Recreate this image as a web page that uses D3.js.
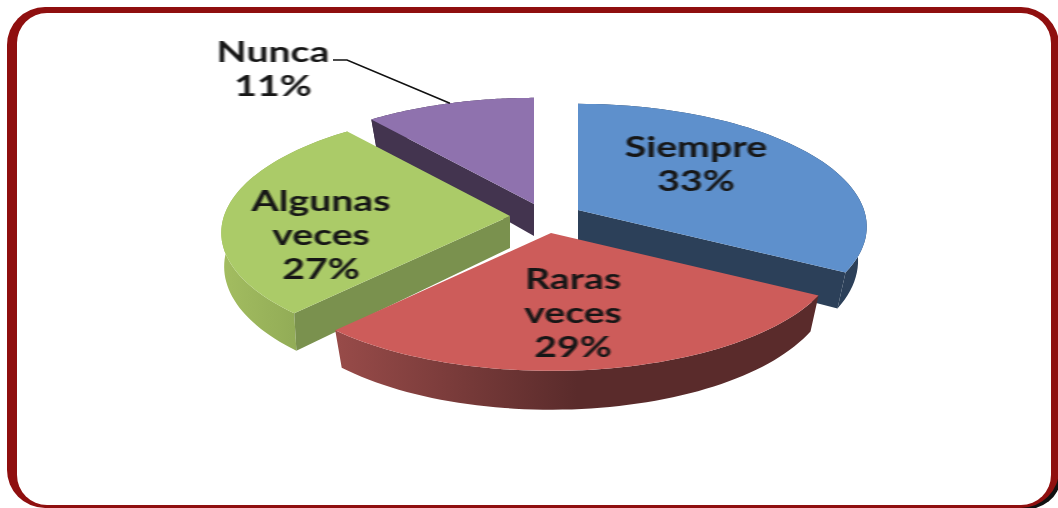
<!DOCTYPE html>
<html>
<head>
<meta charset="utf-8">
<script src="https://cdn.jsdelivr.net/npm/d3@7"></script>
<style>
  html, body { margin: 0; padding: 0; background: #fff; overflow: hidden; }
  svg { display: block; }
</style>
</head>
<body>
<svg id="chart" width="1058" height="508"></svg>
<script>
// Exploded 3D pie, drawn by hand since d3 has no perspective pie

const CATEGORIES = ["Siempre", "Raras veces", "Algunas veces", "Nunca"];
const PERCENTS = [33, 29, 27, 11];
const LABEL_LINES = [["Siempre", "33%"], ["Raras", "veces", "29%"], ["Algunas", "veces", "27%"], ["Nunca", "11%"]];

const TOP_COLORS = ["#5e90cc", "#cd5c5a", "#abcb68", "#8f72ae"];
const CUT_COLORS = ["#2c4059", "#5a2b2b", "#7a914e", "#43344f"];
const RIM_COLORS = [["#2c4059", "#2c4059"], ["#984b49", "#5a2b2b"], ["#a3bd60", "#86a050"], ["#43344f", "#43344f"]];
// Which radial edge of each slice shows its cut face
const CUT_EDGE = ["endAngle", null, "startAngle", "startAngle"];

// ── Layout ────────────────────────────────────────────────────
// Apex of each exploded slice and label anchors, in the same order as CATEGORIES
const APEX = [[578, 210], [551, 233], [510, 216], [534, 204]];
const LABEL_POS = [[696, 157], [573, 289], [321, 211], [273, 62]];
const LINE_H = 34;

const RX = 286, RY = 122;    // ellipse radii of the top face
const PERSP_X = 0.14, PERSP_Y = 0.13;  // front of the pie is nearer than the back
const BOTTOM_K = 0.97;       // bottom ring is slightly smaller
const BOTTOM_KX = [0.97, 0.97, 0.99, 0.97];  // green barely leans inward, the rest more
const TEXT_STRETCH = 1.4;    // labels are stretched wide in the original

const svg = d3.select("#chart");
const defs = svg.append("defs");
defs.append("filter").attr("id", "soft")
  .append("feGaussianBlur").attr("stdDeviation", 0.6);

// ── Frame ─────────────────────────────────────────────────────
// Stroke is uneven in the original (thick left, thin bottom), so outer and inner
// rounded rects are separate. Dark rect only peeks out at the bottom right corner.
svg.append("rect")
  .attr("x", 900).attr("y", 450).attr("width", 160).attr("height", 60)
  .attr("rx", 38).attr("fill", "#111");
svg.append("rect")
  .attr("x", 7).attr("y", 7).attr("width", 1052).attr("height", 501)
  .attr("rx", 38).attr("fill", "#8f0f0f");
svg.append("rect")
  .attr("x", 17).attr("y", 13).attr("width", 1034).attr("height", 492)
  .attr("rx", 30).attr("fill", "#fff");

// ── Projection ────────────────────────────────────────────────
// angle is clockwise from 12 o'clock, r goes 0..1 from the apex to the rim
function topPt(apex, angle, r = 1) {
  const s = Math.sin(angle), c = Math.cos(angle);
  return [
    apex[0] + r * RX * s * (1 - PERSP_X * c),
    apex[1] - r * RY * c * (1 - PERSP_Y * c)
  ];
}

function bottomPt(apex, angle, r = 1, kx = BOTTOM_K) {
  const p = topPt(apex, angle, r);
  const depth = r === 0 ? 32 : 33 - 10 * Math.cos(angle);
  return [
    apex[0] + (p[0] - apex[0]) * kx,
    apex[1] + (p[1] - apex[1]) * BOTTOM_K + depth
  ];
}

const slices = d3.pie().sort(null)(PERCENTS);
const line = d3.line();
const closed = pts => line(pts) + "Z";

function arcAngles(d) {
  return d3.range(0, 61).map(i => d.startAngle + (d.endAngle - d.startAngle) * i / 60);
}

// ── Slices ────────────────────────────────────────────────────
// Painter order: back to front
[3, 0, 2, 1].forEach(i => {
  const d = slices[i], apex = APEX[i], kx = BOTTOM_KX[i];
  const angles = arcAngles(d);
  const g = svg.append("g").attr("class", "slice");

  const gradId = "rim" + i;
  const grad = defs.append("linearGradient").attr("id", gradId);
  grad.append("stop").attr("offset", 0).attr("stop-color", RIM_COLORS[i][0]);
  grad.append("stop").attr("offset", 1).attr("stop-color", RIM_COLORS[i][1]);
  if (i === 1) grad.attr("x1", 0).attr("x2", 0.5);

  const rim = angles.map(a => topPt(apex, a)).concat(angles.slice().reverse().map(a => bottomPt(apex, a, 1, kx)));
  g.append("path").attr("d", closed(rim)).attr("fill", `url(#${gradId})`);

  if (CUT_EDGE[i]) {
    const a = d[CUT_EDGE[i]];
    g.append("path")
      .attr("d", closed([topPt(apex, a, 0), topPt(apex, a), bottomPt(apex, a, 1, kx), bottomPt(apex, a, 0, kx)]))
      .attr("fill", CUT_COLORS[i]);
  }

  g.append("path")
    .attr("d", closed([topPt(apex, 0, 0)].concat(angles.map(a => topPt(apex, a)))))
    .attr("fill", TOP_COLORS[i]);
});

// ── Leader line ───────────────────────────────────────────────
// Runs from the Nunca label to the middle of its slice's rim
const nuncaRim = topPt(APEX[3], (slices[3].startAngle + slices[3].endAngle) / 2);
svg.append("path")
  .attr("d", line([[333, 60], [347, 60], nuncaRim]))
  .attr("fill", "none").attr("stroke", "#111").attr("stroke-width", 1.6);

// ── Labels ────────────────────────────────────────────────────
LABEL_LINES.forEach((lines, i) => {
  const t = svg.append("text")
    .attr("transform", `translate(${LABEL_POS[i][0]},${LABEL_POS[i][1]}) scale(${TEXT_STRETCH},1)`)
    .attr("text-anchor", "middle")
    .attr("font-family", "Lato, sans-serif")
    .attr("font-weight", 700)
    .attr("font-size", 28)
    .attr("fill", "#141414")
    .attr("filter", "url(#soft)");
  lines.forEach((txt, j) => {
    t.append("tspan")
      .attr("x", 0)
      .attr("y", j * LINE_H)
      .text(txt);
  });
});
</script>
</body>
</html>
